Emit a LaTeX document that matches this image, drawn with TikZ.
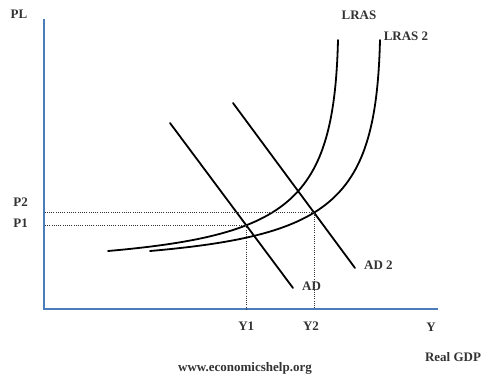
\documentclass[tikz,border=0pt]{standalone}
\usepackage{fontspec}
\setmainfont{Liberation Serif}
\usetikzlibrary{positioning,intersections}
\definecolor{axblue}{HTML}{4A7EBB}
\definecolor{txgrey}{HTML}{333333}
\tikzset{
  axis/.style  ={draw=axblue, line width=2.8pt},
  curve/.style ={draw=black, line width=1.8pt, line cap=round},
  guide/.style ={draw=black!80, line width=1pt, dash pattern=on 1pt off 1.2pt},
  lbl/.style   ={font=\fontsize{13}{15}\selectfont\bfseries, text=txgrey, inner sep=2pt}
}
\begin{document}
\begin{tikzpicture}[x=1pt, y=-1pt]
  \useasboundingbox (0,0) rectangle (494,385);
  \coordinate (o)    at (44,309);
  \coordinate (ytop) at (44,19);
  \coordinate (xend) at (438,309);
  \draw[axis] (ytop) -- (o) -- (xend);

  \coordinate (lrasbot)  at (108,251);
  \coordinate (lrastop)  at (338,40);
  \coordinate (lras2bot) at (150,251);
  \coordinate (lras2top) at (380,40);
  \coordinate (adtop)    at (170,123);
  \coordinate (adbot)    at (293,288);
  \coordinate (ad2top)   at (233,103);
  \coordinate (ad2bot)   at (355,268);

  \draw[curve,name path=lras]  (lrasbot) .. controls (290,235) and (334,200) .. (lrastop);
  \draw[curve,name path=lras2] (lras2bot) .. controls (332,235) and (376,200) .. (lras2top);
  \draw[curve,name path=ad]  (adtop) -- (adbot);
  \draw[curve,name path=ad2] (ad2top) -- (ad2bot);

  \path[name intersections={of=ad and lras, by=e1}];
  \path[name intersections={of=ad2 and lras2, by=e2}];
  \coordinate (p1) at (e1 -| o); \coordinate (y1) at (e1 |- o);
  \coordinate (p2) at (e2 -| o); \coordinate (y2) at (e2 |- o);
  \draw[guide] (e1) -- (p1); \draw[guide] (e1) -- (y1);
  \draw[guide] (e2) -- (p2); \draw[guide] (e2) -- (y2);

  \node[lbl] (pl) at (19,14) {PL};
  \node[lbl,left=14pt of p1,yshift=2pt] (p1l) {P1};
  \node[lbl,left=14pt of p2,yshift=10pt] (p2l) {P2};
  \node[lbl,below=11pt of y1] (y1l) {Y1};
  \node[lbl,below=11pt of y2,xshift=-3pt] (y2l) {Y2};
  \node[lbl] (yl) at (431,327) {Y};
  \node[lbl] (gdp) at (453,357) {Real GDP};
  \node[lbl] (lrasl) at (359,15) {LRAS};
  \node[lbl] (lras2l) at (406,36) {LRAS 2};
  \node[lbl,right=7pt of adbot,yshift=2pt] (adl) {AD};
  \node[lbl,right=7pt of ad2bot,yshift=3pt] (ad2l) {AD 2};
  \node[lbl] (www) at (245,368) {www.economicshelp.org};
\end{tikzpicture}
\end{document}
